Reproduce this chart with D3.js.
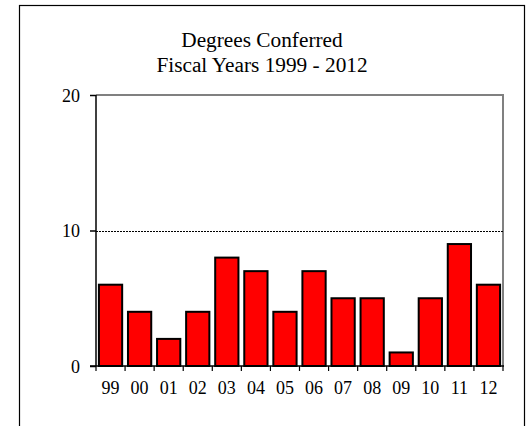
<!DOCTYPE html>
<html><head><meta charset="utf-8">
<script src="https://cdn.jsdelivr.net/npm/d3@7"></script>
<style>body{margin:0;background:#fff}svg{display:block}text{font-family:"Liberation Serif","Times New Roman",serif;fill:#000}</style>
</head><body>
<svg id="c" width="529" height="426" font-family="Liberation Serif, Times New Roman, serif"></svg>
<script>
const categories = ["99","00","01","02","03","04","05","06","07","08","09","10","11","12"];
const degrees = [6,4,2,4,8,7,4,7,5,5,1,5,9,6];
const yTicks = [0,10,20];
const titleLines = ["Degrees Conferred","Fiscal Years 1999 - 2012"];

const svg = d3.select("#c");
svg.append("rect").attr("x",19.5).attr("y",5.5).attr("width",505).attr("height",440)
  .attr("fill","#fff").attr("stroke","#000").attr("stroke-width",1.2);

const L=96, R=503, T=95, B=366;
const x = d3.scaleBand().domain(categories).range([L,R]).paddingInner(0.2).paddingOuter(0.1);
const xb = d3.scaleBand().domain(categories).range([L,R]);
const y = d3.scaleLinear().domain([0,20]).range([B,T]);

svg.append("path").attr("d",`M${L},${T}H${R}V${B}`).attr("fill","none").attr("stroke","#808080").attr("stroke-width",2);
svg.append("line").attr("x1",L).attr("x2",R).attr("y1",Math.round(y(10))+0.5).attr("y2",Math.round(y(10))+0.5)
  .attr("stroke","#000").attr("stroke-width",1).attr("stroke-dasharray","2,1");

svg.selectAll("rect.bar").data(degrees).enter().append("rect").attr("class","bar")
  .attr("x",(d,i)=>x(categories[i])).attr("width",x.bandwidth())
  .attr("y",d=>y(d)).attr("height",d=>B-y(d))
  .attr("fill","#ff0000").attr("stroke","#000").attr("stroke-width",2);

const yAxis = svg.append("g").attr("transform",`translate(${L},0)`)
  .call(d3.axisLeft(y).tickValues(yTicks).tickSize(6).tickPadding(10).tickFormat(d3.format("d")));
yAxis.attr("font-family",null).attr("font-size",null);
yAxis.select(".domain").attr("stroke","#000").attr("stroke-width",1.5).attr("d",`M0,${T}V${B}`);
yAxis.selectAll(".tick line").attr("stroke","#000").attr("stroke-width",1.5);
yAxis.selectAll("text").attr("font-size",18).attr("dy","0.35em").attr("fill","#000");

const gx = svg.append("g");
gx.append("line").attr("x1",L-6).attr("x2",R+1).attr("y1",B).attr("y2",B).attr("stroke","#000").attr("stroke-width",1.5);
const bounds = categories.map(c=>xb(c)).concat([R]);
gx.selectAll("line.t").data(bounds).enter().append("line").attr("class","t")
  .attr("x1",d=>d).attr("x2",d=>d).attr("y1",B).attr("y2",B+5).attr("stroke","#000").attr("stroke-width",1.2);
gx.selectAll("text").data(categories).enter().append("text")
  .attr("x",d=>xb(d)+xb.bandwidth()/2).attr("y",B+28).attr("text-anchor","middle").attr("font-size",18).text(d=>d);

const tt = svg.selectAll("text.title").data(titleLines).enter().append("text").attr("class","title")
  .attr("x",262).attr("y",(d,i)=>47+i*25).attr("text-anchor","middle").attr("font-size",21.3).text(d=>d);
svg.selectAll("text").each(function(){ this.getComputedTextLength(); });
</script>
</body></html>
